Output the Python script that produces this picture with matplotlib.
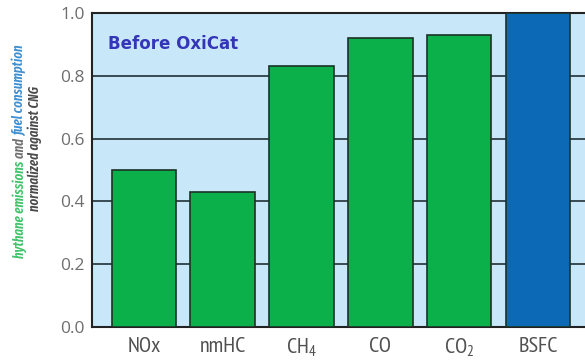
import matplotlib
matplotlib.use("Agg")
import matplotlib.pyplot as plt

categories = ["NOx", "nmHC", r"$\mathregular{CH_4}$", "CO", r"$\mathregular{CO_2}$", "BSFC"]
values = [0.50, 0.43, 0.83, 0.92, 0.93, 1.0]
bar_colors = ["#0cb04a"] * 5 + ["#0b69b6"]
yticks = [0.0, 0.2, 0.4, 0.6, 0.8, 1.0]

narrow = ["Fira Sans Extra Condensed", "PT Sans Narrow", "DejaVu Sans"]
xfont = ["PT Sans Narrow", "Archivo Narrow", "DejaVu Sans"]

fig = plt.figure(figsize=(5.85, 3.63), dpi=100)
ax = fig.add_axes([0.157, 0.099, 0.90, 0.865])
ax.set_facecolor("#c8e8f9")

xpos = list(range(len(categories)))
ax.bar(xpos, values, width=0.82, color=bar_colors, edgecolor="#1b3328",
       linewidth=1.2, zorder=3)

ax.set_xlim(-0.66, 6.02)
ax.set_ylim(0, 1.0)
ax.set_yticks(yticks)
ax.set_yticklabels(["%.1f" % v for v in yticks], color="#6e6e6e", fontsize=12.5,
                   family=["Open Sans", "DejaVu Sans"])
ax.set_xticks(xpos)
ax.set_xticklabels(categories, color="#505050", fontsize=16, family=xfont)
ax.tick_params(length=0, pad=5)
ax.tick_params(axis="x", pad=7)

for y in yticks[1:-1]:
    ax.axhline(y, color="#2f3f45", linewidth=1.3, zorder=1)

for side in ["left", "bottom", "top"]:
    ax.spines[side].set_color("#222222")
    ax.spines[side].set_linewidth(1.5)
ax.spines["right"].set_visible(False)

ax.text(-0.46, 0.90, "Before OxiCat", color="#3535b8", fontsize=12,
        fontweight="bold", va="center", ha="left")

# y label made of coloured pieces, stacked bottom to top
fig.canvas.draw()
renderer = fig.canvas.get_renderer()
pieces = [("hythane emissions ", "#3fc46a"), ("and ", "#707070"),
          ("fuel consumption", "#3f8fd0")]
ybot = 0.29
for txt, col in pieces:
    t = fig.text(0.034, ybot, txt, rotation=90, color=col, fontsize=10,
                 family=narrow, style="italic", fontweight="semibold",
                 ha="center", va="bottom")
    bb = t.get_window_extent(renderer)
    ybot += bb.height / fig.bbox.height

fig.text(0.060, 0.59, "normalized against CNG", rotation=90, color="#4a4a4a",
         fontsize=10, family=narrow, style="italic", fontweight="semibold",
         ha="center", va="center")

fig.savefig("out.png", dpi=100)
